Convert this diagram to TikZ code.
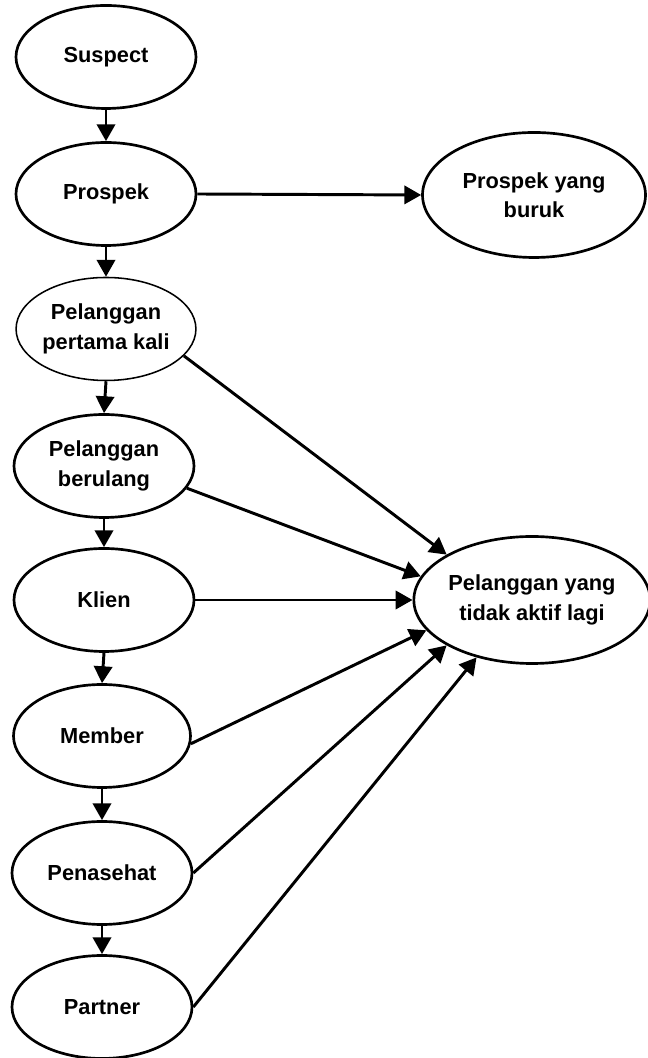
\documentclass[tikz,border=0pt]{standalone}
\usepackage{fontspec}
\setmainfont{Liberation Sans}
\usetikzlibrary{shapes.geometric,arrows.meta}

\begin{document}
\begin{tikzpicture}[scale=1.0,
    stage/.style={ellipse, draw, line width=1.9pt, minimum width=4.5cm,
        minimum height=2.575cm, inner sep=0pt, align=center,
        font=\fontsize{15.5}{21}\selectfont\bfseries},
    flow/.style={line width=2.1pt, -{Triangle[length=12pt, width=13pt]}}]

    \useasboundingbox (0, 0) rectangle (16.2, 26.45);

    % Left column
    \node[stage] (suspect) at (2.65, 25.025) {Suspect};
    \node[stage] (prospek) at (2.65, 21.6) {Prospek};
    \node[stage, line width=1.1pt, minimum width=4.375cm] (pertama) at (2.65, 18.225) {Pelanggan\\pertama kali};
    \node[stage] (berulang) at (2.6, 14.8) {Pelanggan\\berulang};
    \node[stage] (klien) at (2.6, 11.45) {Klien};
    \node[stage, minimum width=4.425cm] (member) at (2.55, 8.05) {Member};
    \node[stage] (penasehat) at (2.55, 4.625) {Penasehat};
    \node[stage] (partner) at (2.55, 1.275) {Partner};

    % Right column
    \node[stage, minimum width=5.575cm, minimum height=3.125cm] (buruk) at (13.35, 21.575) {Prospek yang\\buruk};
    \node[stage, minimum width=5.675cm, minimum height=3.175cm] (lost) at (13.3, 11.45) {Pelanggan yang\\tidak aktif lagi};

    % Down the ladder
    \draw[flow] (suspect.south) -- (prospek.north);
    \draw[flow] (prospek.south) -- (pertama.north);
    \draw[flow] (pertama.south) -- (berulang.north);
    \draw[flow] (berulang.south) -- (klien.north);
    \draw[flow] (klien.south) -- (member.north);
    \draw[flow] (member.south) -- (penasehat.north);
    \draw[flow] (penasehat.south) -- (partner.north);

    % Drop outs
    \draw[flow] (prospek.east) -- (buruk.west);
    \draw[flow] (pertama.341) -- (lost.152.7);
    \draw[flow] (berulang.345) -- (lost.168.6);
    \draw[flow] (klien.east) -- (lost.west);
    \draw[flow] (member.355) -- (lost.196);
    \draw[flow] (penasehat.east) -- (lost.208);
    \draw[flow] (partner.east) -- (lost.226);

\end{tikzpicture}
\end{document}
